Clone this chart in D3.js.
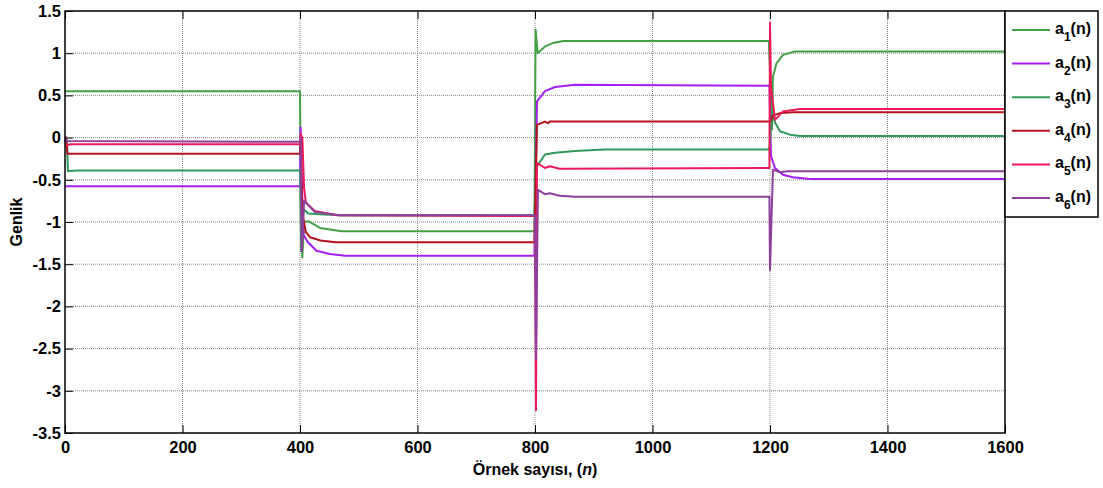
<!DOCTYPE html>
<html lang="tr">
  <head>
    <meta charset="utf-8" />
    <title>a(n) katsayilari</title>
    <script src="https://d3js.org/d3.v7.min.js"></script>
    <style>
      body { margin: 0; background: #fff; }
      text { font-family: "Liberation Sans", Arial, sans-serif; font-weight: bold; fill: #000; }
    </style>
  </head>
  <body>
    <div id="chart"></div>
  <script>
      // series as [n, value] points
      const names = ["1", "2", "3", "4", "5", "6"]
      const a1 = [[0,0.55],[400,0.55],[401,-0.3],[404,-1.42],[407,-1.0],[414,-0.99],[434,-1.07],[471,-1.11],[799,-1.11],
        [801,1.28],[804.6,1.0],[817,1.08],[830,1.12],[848,1.145],[1198,1.145],[1201,0.6],[1203.4,0.095],[1205,0.72],
        [1211,0.88],[1222,0.98],[1242,1.02],[1600,1.02]]
      const a2 = [[0,-0.575],[400,-0.575],[401,0.12],[403,-0.5],[406,-1.15],[413.6,-1.24],[428,-1.34],[451,-1.38],[477,-1.40],
        [799,-1.40],[803.4,0.43],[817,0.55],[834,0.60],[868,0.625],[1199,0.615],[1201.7,-0.22],[1208.5,-0.36],[1222,-0.44],
        [1239,-0.47],[1268,-0.49],[1600,-0.49]]
      const a3 = [[0,0],[3,0],[5,-0.40],[20,-0.39],[400,-0.39],[402,-1.35],[406,-0.85],[414,-0.90],[440,-0.91],[470,-0.92],
        [799,-0.92],[801,-0.5],[803.4,-0.34],[817,-0.20],[834,-0.18],[868,-0.16],[919,-0.14],[1199,-0.14],[1203.4,0.30],
        [1208.5,0.18],[1217,0.075],[1234,0.035],[1251,0.02],[1600,0.02]]
      const a4 = [[0,0],[2,0],[4,-0.19],[400,-0.19],[401,0.0],[404,-0.9],[410,-1.12],[417,-1.18],[435,-1.22],[460,-1.24],
        [799,-1.24],[803.4,0.15],[817,0.19],[822,0.17],[825,0.19],[1199,0.19],[1201,0.20],[1205,0.26],[1217,0.29],
        [1240,0.30],[1600,0.30]]
      const a5 = [[0,-0.03],[3,-0.09],[10,-0.08],[400,-0.08],[401,0.04],[404,0.0],[407,-0.6],[410,-0.77],[425,-0.87],
        [463,-0.92],[800,-0.93],[801.7,-3.23],[803.4,-0.30],[817,-0.36],[825,-0.34],[842,-0.37],[1199,-0.36],[1200,1.36],
        [1201.7,0.6],[1208.5,0.21],[1222,0.31],[1251,0.34],[1600,0.34]]
      const a6 = [[0,0.01],[3,-0.04],[400,-0.05],[401,0.0],[403,-1.35],[407,-0.75],[410,-0.77],[425,-0.88],[468,-0.92],
        [800,-0.92],[801.7,-2.62],[805,-0.62],[817,-0.67],[825,-0.66],[842,-0.69],[868,-0.70],[1199,-0.70],[1200,-1.57],
        [1205,-0.38],[1217,-0.41],[1230,-0.40],[1600,-0.40]]
      const series = [a1, a2, a3, a4, a5, a6]
      const xTicks = [0, 200, 400, 600, 800, 1000, 1200, 1400, 1600]
      const yTicks = [-3.5, -3, -2.5, -2, -1.5, -1, -0.5, 0, 0.5, 1, 1.5]

      const colors = ["#45a045", "#a31ff2", "#30995a", "#b3131c", "#eb1a58", "#8d3f9c"]

      const margin = {top: 11, right: 98, bottom: 55, left: 65},
          width = 1103 - margin.left - margin.right,
          height = 488 - margin.top - margin.bottom;

      const svg = d3.select("#chart")
        .append("svg")
          .attr("width", 1103)
          .attr("height", 488)
        .append("g")
          .attr("transform", `translate(${margin.left}, ${margin.top})`)

      const x = d3.scaleLinear().domain([0, 1600]).range([0, width])
      const y = d3.scaleLinear().domain([-3.5, 1.5]).range([height, 0])

      // grid
      svg.append("g").selectAll("line")
        .data(yTicks.slice(1, -1))
        .join("line")
          .attr("x1", 0).attr("x2", width)
          .attr("y1", d => y(d)).attr("y2", d => y(d))
          .attr("stroke", "#888").attr("stroke-dasharray", "1,1")
      svg.append("g").selectAll("line")
        .data(xTicks.slice(1, -1))
        .join("line")
          .attr("y1", 0).attr("y2", height)
          .attr("x1", d => x(d)).attr("x2", d => x(d))
          .attr("stroke", "#888").attr("stroke-dasharray", "1,1")

      // axes, ticks pointing inward
      svg.append("g")
        .attr("transform", `translate(0, ${height})`)
        .call(d3.axisBottom(x).tickValues(xTicks).tickSize(-8).tickPadding(8).tickFormat(d => String(d)))
        .call(g => g.select(".domain").remove())
        .call(g => g.selectAll("text").style("font-size", "16.5px"))
      svg.append("g")
        .call(d3.axisTop(x).tickValues(xTicks).tickSize(-8).tickFormat(""))
        .call(g => g.select(".domain").remove())
      svg.append("g")
        .call(d3.axisLeft(y).tickValues(yTicks).tickSize(-8).tickPadding(4).tickFormat(d => String(d)))
        .call(g => g.select(".domain").remove())
        .call(g => g.selectAll("text").style("font-size", "16.5px"))

      // lines
      const line = d3.line().x(d => x(d[0])).y(d => y(d[1]))
      svg.append("g")
        .selectAll("path")
        .data(series)
        .join("path")
          .attr("d", line)
          .attr("fill", "none")
          .attr("stroke", (d, i) => colors[i])
          .attr("stroke-width", 2)
          .attr("stroke-linejoin", "round")

      // frame
      svg.append("rect")
        .attr("width", width).attr("height", height)
        .attr("fill", "none").attr("stroke", "#000").attr("stroke-width", 1.5)

      // legend
      const legend = svg.append("g").attr("transform", `translate(${width}, 0)`)
      legend.append("rect")
        .attr("width", 93).attr("height", 206)
        .attr("fill", "#fff").attr("stroke", "#000").attr("stroke-width", 1.5)
      const item = legend.selectAll("g.item")
        .data(names)
        .join("g")
          .attr("class", "item")
          .attr("transform", (d, i) => `translate(0, ${19 + i * 33.6})`)
      item.append("line")
        .attr("x1", 7).attr("x2", 45)
        .attr("stroke", (d, i) => colors[i]).attr("stroke-width", 2)
      const lt = item.append("text")
        .attr("x", 50).attr("y", 4)
        .style("font-size", "16px")
      lt.append("tspan").text("a")
      lt.append("tspan").attr("dy", 7).style("font-size", "12px").text(d => d)
      lt.append("tspan").attr("dy", -7).text("(n)")

      // axis labels
      const xl = svg.append("text")
        .attr("x", width / 2).attr("y", height + 42)
        .attr("text-anchor", "middle")
        .style("font-size", "16px")
      xl.append("tspan").text("Örnek sayısı, (")
      xl.append("tspan").style("font-style", "italic").text("n")
      xl.append("tspan").text(")")

      svg.append("text")
        .attr("transform", `translate(${-43}, ${height / 2}) rotate(-90)`)
        .attr("text-anchor", "middle")
        .style("font-size", "16px")
        .text("Genlik")
  </script>
  </body>
</html>
